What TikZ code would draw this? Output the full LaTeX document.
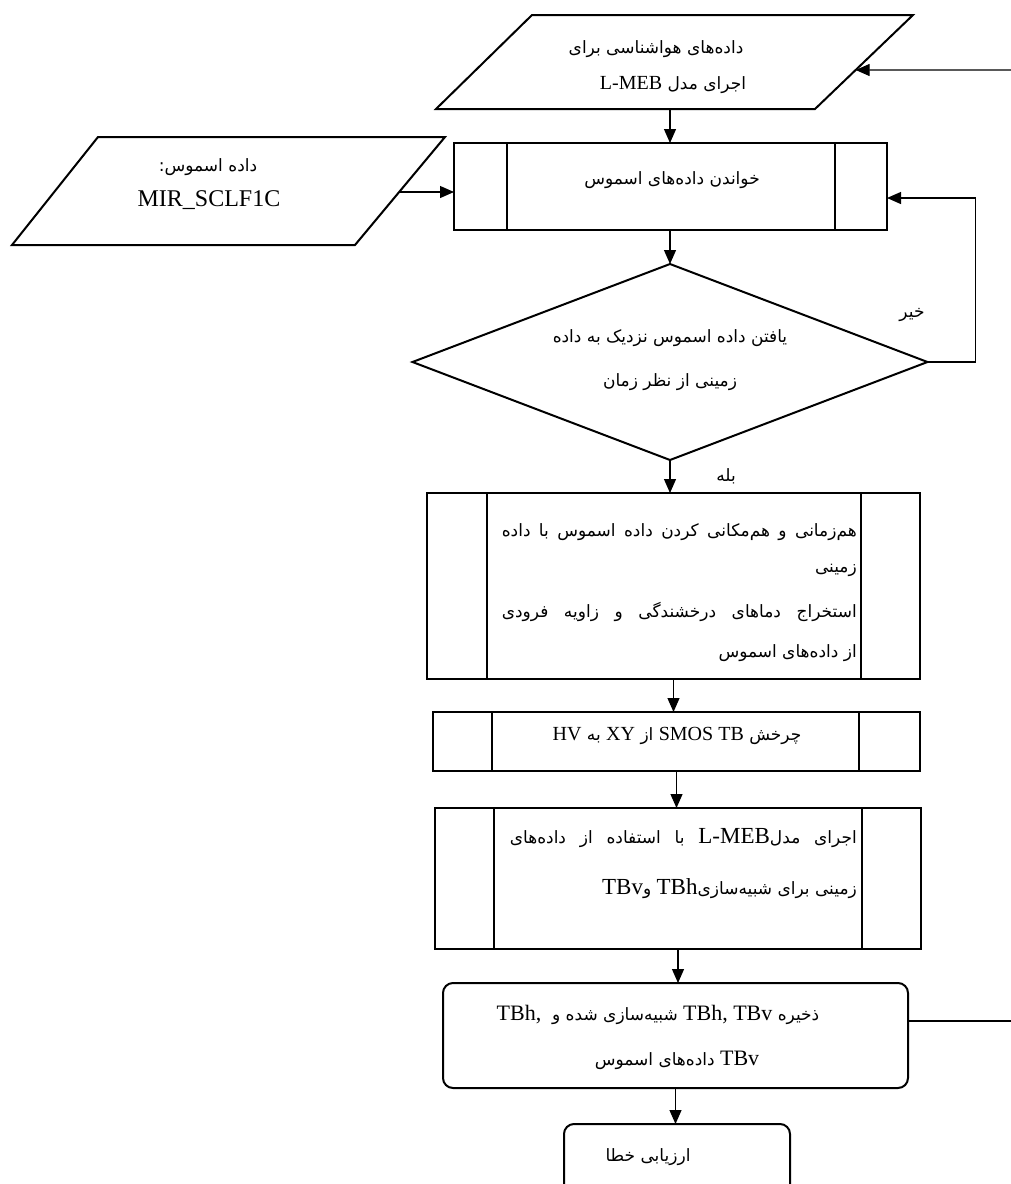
\documentclass[tikz,border=0pt]{standalone}
\usepackage{fontspec}
\setmainfont{Liberation Serif}
\newfontfamily\fa[Script=Arabic]{DejaVu Sans}
\TeXXeTstate=1
\usetikzlibrary{arrows.meta,shapes.geometric,calc}
\newcommand{\fs}{\fontsize{17}{20}\selectfont}
\newcommand{\FA}[1]{{\fa\fs\beginR #1\endR}}
\newcommand{\LT}[2][21]{\beginL{\fontsize{#1}{#1}\selectfont\rmfamily #2}\endL}
\begin{document}
\begin{tikzpicture}[x=1pt,y=-1pt,
  shp/.style={draw, line width=2pt, inner sep=0pt, outer sep=0pt},
  sub/.style={shp, rectangle},
  rnd/.style={shp, rectangle, rounded corners=10pt},
  bar/.style={line width=2pt},
  conn/.style={line width=1.2pt, -{Triangle[length=14pt,width=12pt]}},
  plain/.style={line width=1.2pt},
  txt/.style={inner sep=0pt},
]
\useasboundingbox (0,0) rectangle (1011,1184);
\clip (0,0) rectangle (1011,1184);

% top parallelogram
\draw[bar] (532,15) coordinate (Pa1) -- (913,15) coordinate (Pa2) -- (815,109) coordinate (Pa3) -- (436,109) coordinate (Pa4) -- cycle;
\coordinate (PaS) at (670,109);
\coordinate (PaE) at ($(Pa2)!55/94!(Pa3)$);
\coordinate (InTop) at (1011,70);
\draw[conn] (InTop) -- (PaE);
\node[txt] (ta1) at (656,49) {\FA{داده‌های هواشناسی برای}};
\node[txt] (ta2) at (673,85) {\FA{اجرای مدل \LT[20]{L-MEB}}};

% box 1
\node[sub, minimum width=433pt, minimum height=87pt] (B1) at (670.5,186.5) {};
\draw[bar] ([xshift=53pt]B1.north west) -- ([xshift=53pt]B1.south west);
\draw[bar] ([xshift=-52pt]B1.north east) -- ([xshift=-52pt]B1.south east);
\node[txt] (tb1) at (672,180) {\FA{خواندن داده‌های اسموس}};
\draw[conn] (PaS) -- (PaS |- B1.north);

% left parallelogram
\draw[bar] (98,137) coordinate (Pb1) -- (445,137) coordinate (Pb2) -- (355,245) coordinate (Pb3) -- (12,245) coordinate (Pb4) -- cycle;
\coordinate (PbE) at ($(Pb2)!55/108!(Pb3)$);
\draw[conn] (PbE) -- (PbE -| B1.west);
\node[txt] (tc1) at (208,167) {\FA{داده اسموس:}};
\node[txt] (tc2) at (209,200) {\fontsize{24}{24}\selectfont MIR\_SCLF1C};

% diamond
\node[shp, diamond, minimum width=515pt, minimum height=196pt] (D) at (670,362) {};
\draw[conn] (B1.south -| D.north) -- (D.north);
\node[txt] (td1) at (670,338) {\FA{یافتن داده اسموس نزدیک به داده}};
\node[txt] (td2) at (670,382) {\FA{زمینی از نظر زمان}};
\draw[conn] (D.east) -- ++(48,0) |- ([yshift=-11.5pt]B1.east);
\node[txt] (no) at (912,315) {\FA{خیر}};
\node[txt] (yes) at (726,476) {\FA{بله}};

% box 2
\node[sub, minimum width=493pt, minimum height=186pt] (B2) at (673.5,586) {};
\draw[bar] ([xshift=60pt]B2.north west) -- ([xshift=60pt]B2.south west);
\draw[bar] ([xshift=-59pt]B2.north east) -- ([xshift=-59pt]B2.south east);
\draw[conn] (D.south) -- (D.south |- B2.north);
\node[txt, anchor=east] (te1) at (857,532) {\fa\fs\hbox to 355pt{\beginR هم‌زمانی و هم‌مکانی کردن داده اسموس با داده\endR}};
\node[txt, anchor=east] (te2) at (857,570) {\FA{زمینی}};
\node[txt, anchor=east] (te3) at (857,612) {\fa\fs\hbox to 355pt{\beginR استخراج دماهای درخشندگی و زاویه فرودی\endR}};
\node[txt, anchor=east] (te4) at (857,653) {\FA{از داده‌های اسموس}};

% box 3
\node[sub, minimum width=487pt, minimum height=59pt] (B3) at (676.5,741.5) {};
\draw[bar] ([xshift=59pt]B3.north west) -- ([xshift=59pt]B3.south west);
\draw[bar] ([xshift=-61pt]B3.north east) -- ([xshift=-61pt]B3.south east);
\draw[conn] (B2.south) -- (B2.south |- B3.north);
\node[txt] (tf1) at (677,736) {\FA{چرخش \LT[20]{SMOS TB} از \LT[20]{XY} به \LT[20]{HV}}};

% box 4
\node[sub, minimum width=486pt, minimum height=141pt] (B4) at (678,878.5) {};
\draw[bar] ([xshift=59pt]B4.north west) -- ([xshift=59pt]B4.south west);
\draw[bar] ([xshift=-59pt]B4.north east) -- ([xshift=-59pt]B4.south east);
\draw[conn] (B3.south) -- (B3.south |- B4.north);
\node[txt, anchor=east] (tg1) at (857,838) {\fa\fs\hbox to 347pt{\beginR اجرای مدل\LT[23]{L-MEB} با استفاده از داده‌های\endR}};
\node[txt, anchor=east] (tg2) at (857,889) {\FA{زمینی برای شبیه‌سازی\LT[23]{TBh} و\LT[23]{TBv}}};

% box 5
\node[rnd, minimum width=465pt, minimum height=105pt] (B5) at (675.5,1035.5) {};
\draw[conn] (B4.south) -- (B4.south |- B5.north);
\coordinate (OutR) at (1011,1021);
\draw[plain] ([yshift=14.5pt]B5.east) -- (OutR);
\node[txt] (th1) at (658,1015) {\FA{ذخیره \LT[22]{TBh, TBv} شبیه‌سازی شده و\ \ \LT[22]{TBh,}}};
\node[txt] (th2) at (677,1060) {\FA{\LT[22]{TBv} داده‌های اسموس}};

% box 6
\node[rnd, minimum width=226pt, minimum height=86pt] (B6) at (677,1167) {};
\draw[conn] (B5.south) -- (B5.south |- B6.north);
\node[txt] (ti1) at (648,1157) {\FA{ارزیابی خطا}};
\end{tikzpicture}
\end{document}
